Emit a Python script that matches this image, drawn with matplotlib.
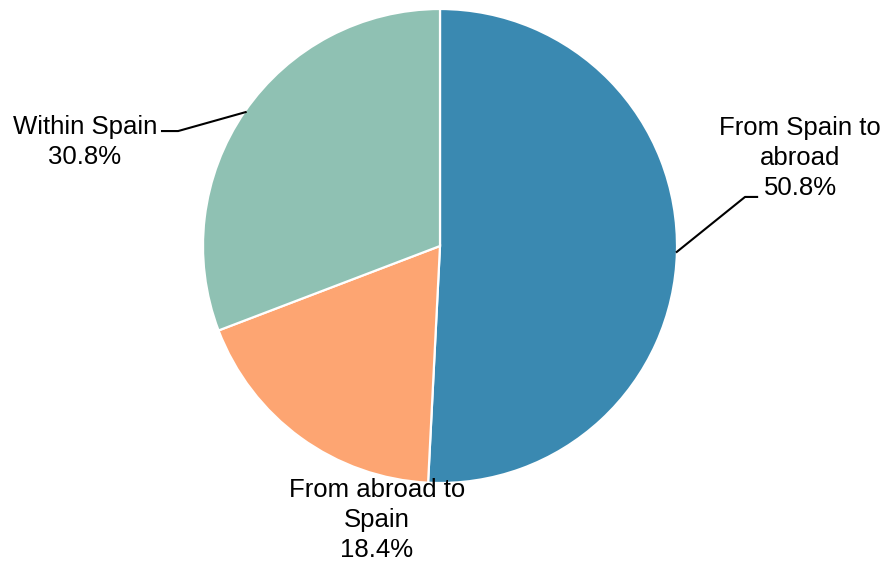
import matplotlib
matplotlib.use("Agg")
import matplotlib.pyplot as plt

categories = ["From Spain to\nabroad", "From abroad to\nSpain", "Within Spain"]
shares = [50.8, 18.4, 30.8]
colors = ["#3a89b1", "#fda572", "#8fc1b3"]

plt.rcParams["font.family"] = ["Liberation Sans", "DejaVu Sans"]

fig = plt.figure(figsize=(8.85, 5.61), dpi=100)
ax = fig.add_axes([203 / 885, 1 - 483 / 561, 474 / 885, 474 / 561])

ax.pie(shares, colors=colors, startangle=90, counterclock=False,
       radius=1.0, wedgeprops=dict(edgecolor="white", linewidth=1.6))
ax.set_xlim(-1, 1)
ax.set_ylim(-1, 1)
ax.set_aspect("equal")
ax.axis("off")

labels = [f"{c}\n{s:.1f}%" for c, s in zip(categories, shares)]
fs = 18.5
ls = 1.3

# From Spain to abroad
ax.plot([0.999, 1.287, 1.338], [-0.025, 0.207, 0.207], color="black", lw=1.5,
        clip_on=False)
ax.text(1.519, 0.371, labels[0], ha="center", va="center", fontsize=fs,
        linespacing=ls, clip_on=False)

# From abroad to Spain
ax.text(-0.266, -1.156, labels[1], ha="center", va="center", fontsize=fs,
        linespacing=ls, clip_on=False)

# Within Spain
ax.plot([-0.82, -1.105, -1.173], [0.565, 0.485, 0.485], color="black", lw=1.5,
        clip_on=False)
ax.text(-1.498, 0.439, labels[2], ha="center", va="center", fontsize=fs,
        linespacing=ls, clip_on=False)

fig.savefig("out.png", dpi=100)
